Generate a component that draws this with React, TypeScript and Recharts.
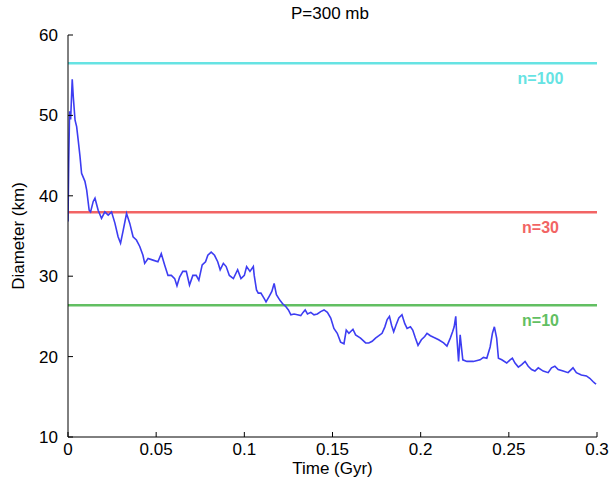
import React from 'react';
import { LineChart, Line, XAxis, YAxis, ReferenceLine } from 'recharts';

// time in Gyr and crater diameter in km
const timeGyr = [
  0, 0.0004, 0.0009, 0.0015, 0.0024, 0.003, 0.004, 0.0049, 0.0058, 0.0068,
  0.0077, 0.0096, 0.0106, 0.012, 0.0128, 0.0143, 0.0153, 0.0171, 0.019, 0.0209,
  0.0228, 0.0247, 0.0266, 0.0284, 0.0298, 0.0313, 0.0332, 0.035, 0.0369, 0.0388,
  0.0407, 0.0425, 0.0435, 0.0454, 0.0482, 0.051, 0.0529, 0.0548, 0.0567, 0.0586,
  0.0605, 0.0618, 0.0633, 0.0651, 0.0671, 0.0689, 0.0708, 0.0727, 0.0742, 0.0761,
  0.078, 0.0793, 0.0812, 0.0831, 0.0849, 0.0863, 0.0881, 0.0897, 0.0915, 0.0938,
  0.0962, 0.0981, 0.1, 0.1013, 0.1032, 0.1051, 0.1056, 0.1069, 0.1079, 0.1094,
  0.1113, 0.1123, 0.1141, 0.1156, 0.1169, 0.1182, 0.1202, 0.1216, 0.1236, 0.125,
  0.1264, 0.1282, 0.1301, 0.132, 0.1333, 0.1345, 0.1358, 0.1377, 0.1395, 0.1414,
  0.1433, 0.1452, 0.1471, 0.149, 0.1508, 0.1527, 0.1546, 0.1565, 0.1578, 0.1593,
  0.1616, 0.1631, 0.1659, 0.1688, 0.1706, 0.1725, 0.1744, 0.1763, 0.1781, 0.1797,
  0.181, 0.1823, 0.1835, 0.1847, 0.186, 0.1876, 0.1894, 0.191, 0.1923, 0.1942,
  0.1955, 0.197, 0.1985, 0.2004, 0.2023, 0.2036, 0.2055, 0.2073, 0.2102, 0.213,
  0.2149, 0.2168, 0.2181, 0.219, 0.2199, 0.2205, 0.2215, 0.2224, 0.2233, 0.2239,
  0.2262, 0.2299, 0.2337, 0.2356, 0.2375, 0.2394, 0.2407, 0.2418, 0.2431, 0.2441,
  0.246, 0.2488, 0.2507, 0.252, 0.2535, 0.2554, 0.2573, 0.2592, 0.261, 0.2629,
  0.2648, 0.2667, 0.2695, 0.2723, 0.2742, 0.2761, 0.278, 0.2808, 0.2836, 0.2864,
  0.2883, 0.2911, 0.294, 0.2959, 0.2977, 0.2987, 0.2995,
];
const diameterKm = [
  36.8, 44, 50.5, 49.5, 54.5, 52.3, 49.4, 48.6, 46.9, 44.9,
  42.8, 41.8, 40.7, 38.2, 38.0, 39.3, 39.7, 38.2, 37.2, 38.0,
  37.6, 38.0, 36.6, 34.9, 34.1, 35.7, 37.8, 36.6, 34.9, 34.5,
  33.7, 32.6, 31.6, 32.2, 32.0, 31.8, 32.8, 31.4, 30.1, 30.1,
  29.7, 28.8, 29.9, 30.6, 30.6, 28.9, 30.1, 30.1, 29.5, 31.4,
  31.8, 32.6, 33.0, 32.6, 31.8, 30.8, 31.6, 31.2, 30.1, 29.7,
  30.8, 29.7, 30.1, 31.2, 30.6, 31.2, 30.1, 28.3, 27.9, 27.9,
  27.2, 26.8, 27.5, 28.1, 29.1, 27.7, 27.0, 26.6, 26.2, 25.8,
  25.2, 25.3, 25.2, 25.1, 25.5, 25.8, 25.3, 25.5, 25.2, 25.3,
  25.6, 25.8, 25.5, 24.8, 23.5, 22.9, 21.8, 21.6, 23.3, 22.9,
  23.4, 22.7, 22.3, 21.7, 21.7, 21.9, 22.3, 22.6, 22.9, 23.7,
  24.6, 25.0, 23.9, 23.1, 23.9, 24.8, 25.2, 24.1, 23.5, 23.7,
  23.3, 22.3, 21.4, 22.1, 22.5, 22.9, 22.6, 22.4, 22.1, 21.7,
  21.3, 22.3, 23.1, 23.7, 25.0, 22.5, 19.4, 22.7, 20.8, 19.6,
  19.4, 19.4, 19.6, 19.9, 19.8, 21.2, 22.9, 23.7, 22.3, 19.8,
  19.6, 19.2, 19.6, 19.8, 19.2, 18.7, 19.0, 19.4, 18.8, 18.4,
  18.2, 18.6, 18.2, 18.0, 18.6, 18.8, 18.4, 18.2, 18.0, 18.6,
  18.0, 17.7, 17.6, 17.3, 16.9, 16.7, 16.6,
];

const xTicks = [0, 0.05, 0.1, 0.15, 0.2, 0.25, 0.3];
const yTicks = [10, 20, 30, 40, 50, 60];

// threshold diameters for n impacts
const thresholdLabels = ['n=100', 'n=30', 'n=10'];
const thresholdValues = [56.5, 37.95, 26.4];
const thresholdColors = ['#66e3e3', '#f26464', '#62bf62'];

const data = timeGyr.map((t, i) => ({ t, d: diameterKm[i] }));

const font = '"Liberation Sans", Arial, sans-serif';
const tickStyle = { fontSize: 17, fill: '#000', fontFamily: font };

const App = () => {
  return (
    <div style={{ position: 'absolute', top: 0, left: 0, width: 613, height: 484, background: '#fff' }}>
      <LineChart width={613} height={484} data={data} margin={{ top: 35, right: 16, bottom: 0, left: 0 }}>
        <XAxis
          dataKey="t" type="number" domain={[0, 0.3]} ticks={xTicks} allowDataOverflow
          tickSize={-5} tickMargin={11} height={47} stroke="#000" tick={tickStyle}
          label={{ value: 'Time (Gyr)', position: 'center', dy: 7, fontSize: 17, fill: '#000', fontFamily: font }}
        />
        <XAxis
          xAxisId="top" orientation="top" type="number" domain={[0, 0.3]} ticks={xTicks}
          tickSize={-5} height={0} tick={false} stroke="#000"
        />
        <YAxis
          type="number" domain={[10, 60]} ticks={yTicks} allowDataOverflow
          tickSize={-5} tickMargin={15} width={68} stroke="#000" tick={tickStyle}
          label={{ value: 'Diameter (km)', angle: -90, position: 'center', dx: -16, fontSize: 17, fill: '#000', fontFamily: font }}
        />
        <YAxis
          yAxisId="right" orientation="right" type="number" domain={[10, 60]} ticks={yTicks}
          tickSize={-5} width={0} tick={false} stroke="#000"
        />
        {thresholdValues.map((v, i) => (
          <ReferenceLine
            key={thresholdLabels[i]} y={v} stroke={thresholdColors[i]} strokeWidth={2.5}
            label={{
              value: thresholdLabels[i], position: 'bottom', offset: 9, dx: 208,
              fill: thresholdColors[i], fontSize: 16, fontWeight: 'bold', fontFamily: font,
            }}
          />
        ))}
        <Line type="linear" dataKey="d" stroke="#3d3df2" strokeWidth={1.6} dot={false} isAnimationActive={false} />
      </LineChart>
      <div
        style={{
          position: 'absolute', top: 4, left: 0, width: 660, textAlign: 'center',
          fontFamily: font, fontSize: 17, color: '#000', pointerEvents: 'none',
        }}
      >
        P=300 mb
      </div>
    </div>
  );
};

export default App;
